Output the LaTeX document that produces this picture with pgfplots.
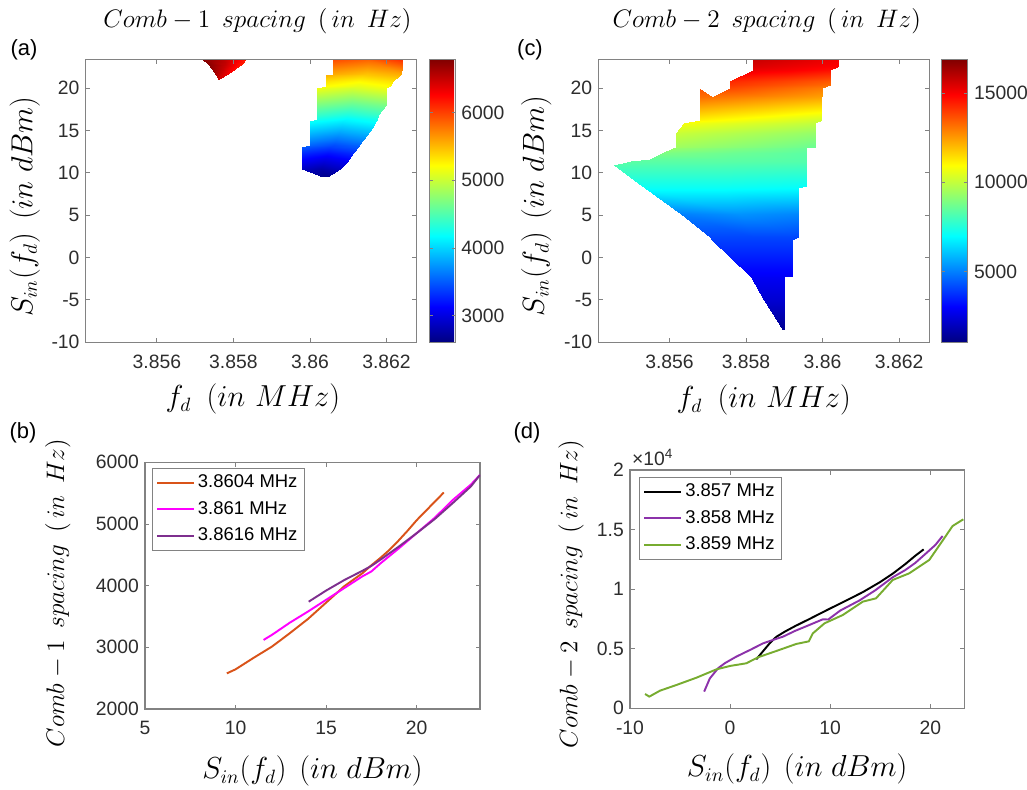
\documentclass[border=0pt]{standalone}
\usepackage[no-math]{fontspec}
\setmainfont{Liberation Sans}
\usepackage{pgfplots}
\pgfplotsset{compat=1.18}

\definecolor{axgray}{RGB}{130,130,130}
\definecolor{txtgray}{RGB}{45,45,45}
\definecolor{mlorange}{RGB}{217,83,25}
\definecolor{mlmagenta}{RGB}{255,0,255}
\definecolor{mlpurple}{RGB}{126,47,142}
\definecolor{mlpurple2}{RGB}{140,50,170}
\definecolor{mlgreen}{RGB}{119,172,48}

% label texts (wider word gaps, as in the reference)
\newcommand{\combtxt}[1]{$Comb-#1\hspace{0.45em}spacing\hspace{0.45em}(\,in\hspace{0.45em}Hz)$}
\newcommand{\fdtxt}{$f_d\hspace{0.55em}(in\hspace{0.35em}MHz)$}
\newcommand{\sintxt}{$S_{in}(f_d)\hspace{0.45em}(in\hspace{0.3em}dBm)$}

\pgfplotsset{
  panel/.style={
    scale only axis,
    anchor=south west,
    axis line style={axgray, line width=0.6pt},
    tick style={axgray, line width=0.5pt},
    major tick length=0.09cm,
    ticklabel style={font=\fontsize{11}{13}\selectfont, text=txtgray},
    xticklabel style={yshift=-0.12cm},
    /pgf/number format/assume math mode=true,
    /pgf/number format/1000 sep={},
    scaled ticks=false,
    label style={font=\fontsize{16}{19}\selectfont, text=black},
    every axis title/.style={anchor=center, font=\fontsize{15}{18}\selectfont, text=black},
  },
  cbar/.style={
    colorbar,
    colorbar style={
      at={(parent axis.north east)}, anchor=north west, xshift=-0.05cm,
      width=0.52cm,
      axis line style={axgray, line width=0.6pt},
      tick style={axgray, line width=0.5pt},
      major tick length=0.07cm,
      yticklabel style={font=\fontsize{11}{13}\selectfont, text=txtgray},
      /pgf/number format/assume math mode=true,
      /pgf/number format/1000 sep={},
      scaled y ticks=false,
      ytick={#1},
    },
  },
  leg/.style={
    legend cell align=left,
    legend image code/.code={\draw[##1] (0cm,0cm) -- (0.74cm,0cm);},
    legend style={draw=axgray, font=\fontsize{10.5}{12}\selectfont, text=black,
      inner xsep=0.08cm, inner ysep=0.08cm, row sep=0.1cm,
      nodes={inner sep=0.06cm}},
  },
}

\begin{document}
\begin{tikzpicture}
\useasboundingbox (0,0) rectangle (20.54,15.78);

% panel letters
\node[font=\fontsize{12.5}{14}\selectfont] at (0.48,14.78) {(a)};
\node[font=\fontsize{12.5}{14}\selectfont] at (10.6,14.78) {(c)};
\node[font=\fontsize{12.5}{14}\selectfont] at (0.46,7.12) {(b)};
\node[font=\fontsize{12.5}{14}\selectfont] at (10.54,7.12) {(d)};

% (a) comb-1 spacing map; x in kHz above 3.85 MHz
\begin{axis}[panel, at={(1.714cm,8.934cm)}, width=6.62cm, height=5.66cm,
  axis on top,
  xmin=4.14, xmax=12.79, ymin=-10, ymax=23.4,
  xtick={6,8,10,12}, xticklabels={3.856,3.858,3.86,3.862},
  ytick={-10,-5,0,5,10,15,20},
  colormap/jet, point meta min=2608, point meta max=6784,
  cbar={3000,4000,5000,6000},
  title={\combtxt{1}},
  title style={at={(axis description cs:0.519,1.135)}},
  xlabel={\fdtxt},
  xlabel style={at={(axis description cs:0.505,-0.201)}, anchor=center},
  ylabel={\sintxt},
  ylabel style={at={(axis description cs:-0.184,0.479)}, anchor=center},
]
\addplot[surf, shader=interp, mesh/cols=3, point meta=explicit] table[meta=c] {
x y c
10.35 9.56 2650
10.40 9.56 2650
10.45 9.56 2650

9.79 10.5 2870
10.29 10.5 2770
10.79 10.5 2870

9.79 11.3 3060
10.375 11.3 2960
10.96 11.3 3060

9.79 12.3 3300
10.46 12.3 3200
11.13 12.3 3300

9.79 13.1 3490
10.52 13.1 3390
11.25 13.1 3490

9.99 13.3 3540
10.635 13.3 3440
11.28 13.3 3540

9.99 13.9 3690
10.69 13.9 3590
11.39 13.9 3690

9.99 15.3 4020
10.80 15.3 3920
11.61 15.3 4020

9.99 16.1 4210
10.86 16.1 4110
11.73 16.1 4210

10.18 16.3 4260
10.965 16.3 4160
11.75 16.3 4260

10.18 16.85 4390
10.98 16.85 4290
11.78 16.85 4390

10.18 18.0 4670
11.09 18.0 4570
12.00 18.0 4670

10.18 20.0 5150
11.09 20.0 5050
12.00 20.0 5150

10.42 20.3 5220
11.26 20.3 5120
12.10 20.3 5220

10.42 20.8 5340
11.295 20.8 5240
12.17 20.8 5340

10.42 21.57 5530
11.385 21.57 5430
12.35 21.57 5530

10.61 21.7 5560
11.495 21.7 5460
12.38 21.7 5560

10.61 23.4 5970
11.515 23.4 5870
12.42 23.4 6100
};
\addplot[surf, shader=interp, mesh/cols=3, point meta=explicit] table[meta=c] {
x y c
7.59 21.06 6450
7.61 21.06 6450
7.63 21.06 6450

7.55 21.57 6600
7.675 21.57 6450
7.80 21.57 6350

7.48 21.96 6680
7.705 21.96 6480
7.93 21.96 6250

7.41 22.36 6720
7.735 22.36 6500
8.06 22.36 6200

7.35 22.75 6750
7.77 22.75 6500
8.19 22.75 6150

7.19 23.4 6784
7.755 23.4 6550
8.32 23.4 6150
};
\end{axis}

% (c) comb-2 spacing map
\begin{axis}[panel, at={(11.966cm,8.934cm)}, width=6.62cm, height=5.66cm,
  axis on top,
  xmin=4.14, xmax=12.79, ymin=-10, ymax=23.4,
  xtick={6,8,10,12}, xticklabels={3.856,3.858,3.86,3.862},
  ytick={-10,-5,0,5,10,15,20},
  colormap/jet, point meta min=1030, point meta max=16900,
  cbar={5000,10000,15000},
  title={\combtxt{2}},
  title style={at={(axis description cs:0.509,1.135)}},
  xlabel={\fdtxt},
  xlabel style={at={(axis description cs:0.5,-0.204)}, anchor=center},
  ylabel={\sintxt},
  ylabel style={at={(axis description cs:-0.187,0.482)}, anchor=center},
]
\addplot[surf, shader=interp, mesh/cols=3, point meta=explicit] table[meta=c] {
x y c
8.97 -8.5 1300
8.985 -8.5 1300
9.00 -8.5 1300

8.46 -5.0 2300
8.73 -5.0 2300
9.00 -5.0 2300

8.12 -2.3 2850
8.56 -2.3 2850
9.00 -2.3 2850

8.11 -2.2 2900
8.655 -2.2 2900
9.20 -2.2 2900

7.12 2.1 4000
8.16 2.1 4000
9.20 2.1 4000

7.05 2.4 4100
8.21 2.4 4100
9.37 2.4 4100

6.30 5.2 5000
7.835 5.2 5300
9.37 5.2 5100

5.35 8.2 7100
7.36 8.2 7100
9.37 8.2 7000

5.28 8.4 7200
7.42 8.4 7200
9.56 8.4 7100

4.54 10.9 8200
7.05 10.9 8200
9.56 10.9 8100

5.00 11.45 8400
7.28 11.45 8400
9.56 11.45 8300

5.50 11.6 8500
7.53 11.6 8450
9.56 11.6 8300

5.80 12.3 8900
7.68 12.3 8650
9.56 12.3 8400

6.10 12.9 9300
7.83 12.9 8950
9.56 12.9 8600

6.17 13.1 9450
7.99 13.1 9050
9.81 13.1 8650

6.17 14.7 10100
7.99 14.7 9700
9.81 14.7 9300

6.37 15.9 10800
8.09 15.9 10400
9.81 15.9 10000

6.80 16.2 11100
8.39 16.2 10650
9.98 16.2 10200

6.80 19.0 13200
8.39 19.0 12800
9.98 19.0 12400
};
\addplot[surf, shader=interp, mesh/cols=2, point meta=explicit] table[meta=c] {
x y c
6.80 19.0 13200
7.11 19.0 13150

6.80 19.9 13600
6.81 19.9 13600
};
\addplot[surf, shader=interp, mesh/cols=3, point meta=explicit] table[meta=c] {
x y c
7.11 19.0 13100
8.545 19.0 12800
9.98 19.0 12400

7.59 20.0 13800
8.785 20.0 13400
9.98 20.0 13000

7.59 20.4 14050
8.895 20.4 13650
10.20 20.4 13250

7.59 20.8 14300
8.895 20.8 13950
10.20 20.8 13550

8.18 22.1 15200
9.19 22.1 15000
10.20 22.1 14700

8.18 22.6 15500
9.30 22.6 15200
10.42 22.6 14900

8.18 23.4 15800
9.30 23.4 15500
10.42 23.4 15100
};
\end{axis}

% (b) comb-1 spacing vs input power
\begin{axis}[panel, leg, at={(2.9cm,1.6cm)}, width=6.7cm, height=4.934cm,
  xmin=5, xmax=23.5, ymin=2000, ymax=6000,
  xtick={5,10,15,20}, ytick={2000,3000,4000,5000,6000},
  xlabel={\sintxt},
  xlabel style={at={(axis description cs:0.5,-0.251)}, anchor=center},
  ylabel={\combtxt{1}},
  ylabel style={at={(axis description cs:-0.26,0.47)}, anchor=center, font=\fontsize{15}{18}\selectfont},
  legend style={at={(axis description cs:0,1)}, anchor=north west, xshift=0.134cm, yshift=-0.108cm},
  every axis plot/.append style={line width=1.1pt},
]
\addplot[color=mlorange] coordinates {
(9.52,2578) (10,2643) (11,2830) (12,3010) (12.5,3119) (13,3230) (14,3460)
(15,3724) (16,3990) (17,4200) (17.5,4330) (18,4450) (18.5,4580) (19,4730)
(19.5,4890) (20,5060) (20.5,5210) (21,5360) (21.5,5510)
};
\addlegendentry{3.8604 MHz}
\addplot[color=mlmagenta] coordinates {
(11.55,3120) (12,3200) (13,3400) (14,3580) (15,3770) (16,3960) (17,4150)
(17.5,4230) (18,4360) (19,4600) (20,4850) (21,5100) (22,5390) (23,5640) (23.5,5795)
};
\addlegendentry{3.861 MHz}
\addplot[color=mlpurple] coordinates {
(14.04,3740) (15,3920) (16,4090) (17,4240) (17.5,4320) (18,4420) (19,4630)
(20,4850) (21,5080) (22,5340) (23,5610) (23.5,5795)
};
\addlegendentry{3.8616 MHz}
\end{axis}

% (d) comb-2 spacing vs input power (values in units of 10^4 Hz)
\begin{axis}[panel, leg, at={(12.6cm,1.614cm)}, width=6.686cm, height=4.766cm,
  xmin=-10, xmax=23.4, ymin=0, ymax=2,
  xtick={-10,0,10,20}, ytick={0,0.5,1,1.5,2},
  xlabel={\sintxt},
  xlabel style={at={(axis description cs:0.5,-0.255)}, anchor=center},
  ylabel={\combtxt{2}},
  ylabel style={at={(axis description cs:-0.1765,0.479)}, anchor=center, font=\fontsize{15}{18}\selectfont},
  legend style={at={(axis description cs:0,1)}, anchor=north west, xshift=0.18cm, yshift=-0.134cm},
  every axis plot/.append style={line width=1.1pt},
  extra description/.code={
    \node[anchor=base west, font=\fontsize{11}{13}\selectfont, text=txtgray, inner sep=0pt]
      at (0.005,1.02) {×10\textsuperscript{4}};
  },
]
\addplot[color=black] coordinates {
(2.62,0.411) (3.3,0.48) (4.0,0.55) (4.62,0.60) (5.5,0.645) (6.5,0.69) (7.94,0.75)
(9.93,0.835) (11.5,0.9) (13.26,0.975) (15,1.06) (16.25,1.13) (17.5,1.21)
(18.5,1.28) (19.34,1.334)
};
\addlegendentry{3.857 MHz}
\addplot[color=mlpurple2] coordinates {
(-2.59,0.14) (-2.03,0.25) (-1.2,0.336) (-0.5,0.38) (0.63,0.434) (2,0.49)
(3.29,0.545) (4.5,0.58) (5.28,0.601) (6.5,0.65) (7.94,0.70) (9.27,0.747)
(9.8,0.745) (11,0.82) (12.92,0.905) (14.5,0.99) (16.25,1.1) (17.5,1.16)
(18.5,1.22) (19.57,1.30) (20.5,1.37) (21.23,1.446)
};
\addlegendentry{3.858 MHz}
\addplot[color=mlgreen] coordinates {
(-8.5,0.12) (-8.07,0.098) (-7.0,0.148) (-5.35,0.196) (-3.36,0.257) (-1.36,0.327)
(-0.03,0.355) (1.63,0.378) (2.79,0.428) (4.62,0.481) (6.61,0.540) (7.87,0.562)
(8.27,0.629) (9.43,0.713) (11.26,0.783) (13.26,0.895) (14.58,0.923) (16.25,1.077)
(17.9,1.133) (19.9,1.245) (21.23,1.407) (22.23,1.53) (23.3,1.586)
};
\addlegendentry{3.859 MHz}
\end{axis}
\end{tikzpicture}
\end{document}
